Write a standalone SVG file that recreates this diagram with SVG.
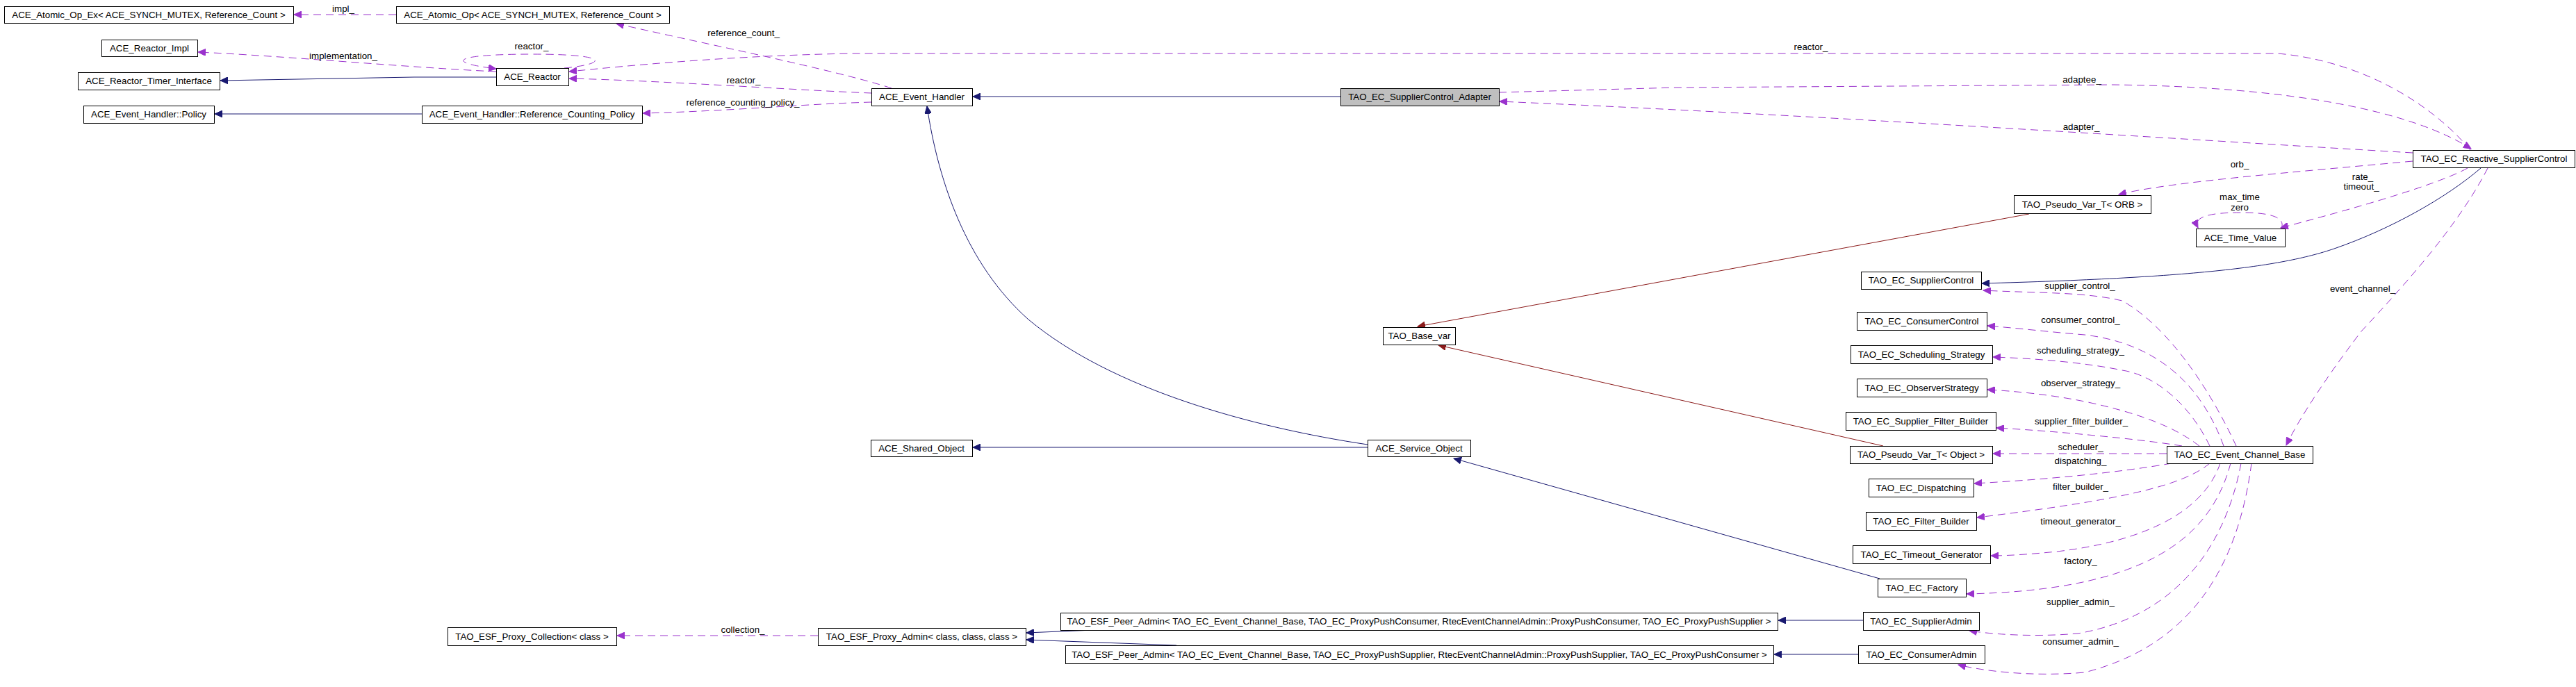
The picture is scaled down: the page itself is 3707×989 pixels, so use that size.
<svg xmlns="http://www.w3.org/2000/svg" width="3707" height="989" viewBox="0 0 3707 989">
<style>
rect.b{fill:#ffffff;stroke:#000000;stroke-width:1}
rect.m{fill:#bfbfbf;stroke:#000000;stroke-width:1}
text{font-family:"Liberation Sans",Arial,sans-serif;font-size:13.33px;fill:#000000}
.nt{text-anchor:middle}
.lb{text-anchor:middle}
.e{fill:none;stroke-width:1}
.inh{stroke:#191970;marker-end:url(#aN)}
.use{stroke:#9a32cd;stroke-dasharray:11,7;marker-end:url(#aP)}
.tpl{stroke:#8b1a1a;marker-end:url(#aR)}
</style>
<defs>
<marker id="aN" markerWidth="12" markerHeight="10" refX="11" refY="5" orient="auto" markerUnits="userSpaceOnUse"><path d="M0,0 L11,5 L0,10 z" fill="#191970" stroke="#191970" stroke-dasharray="none"/></marker>
<marker id="aP" markerWidth="12" markerHeight="10" refX="11" refY="5" orient="auto" markerUnits="userSpaceOnUse"><path d="M0,0 L11,5 L0,10 z" fill="#9a32cd" stroke="#9a32cd" stroke-dasharray="none"/></marker>
<marker id="aR" markerWidth="12" markerHeight="10" refX="11" refY="5" orient="auto" markerUnits="userSpaceOnUse"><path d="M0,0 L11,5 L0,10 z" fill="#8b1a1a" stroke="#8b1a1a" stroke-dasharray="none"/></marker>
</defs>
<rect x="0" y="0" width="3707" height="989" fill="#ffffff"/>
<g id="connectors">
<path class="e use" d="M570,21 L423,21"/>
<path class="e use" d="M714,103 C600,98 400,80 285,75"/>
<path class="e inh" d="M714,111 L596,111 L317,116"/>
<path class="e inh" d="M607,164 L309,164"/>
<path class="e use" d="M812,98 C875,92 880,78 766,78 C650,78 640,90 714,99"/>
<path class="e use" d="M1283,127 C1200,100 1000,60 887,34"/>
<path class="e use" d="M1254,134 C1150,130 950,116 819,113"/>
<path class="e use" d="M1254,147 C1150,150 1050,160 925,163"/>
<path class="e use" d="M3555,216 C3500,150 3400,88 3278,77 L1227,77 C1050,80 900,95 819,103"/>
<path class="e use" d="M2157,133 L2413,126 L3040,122 C3300,125 3470,160 3556,214"/>
<path class="e use" d="M3472,220 C3100,198 2600,165 2158,146"/>
<path class="e use" d="M3472,232 C3300,248 3120,262 3049,280"/>
<path class="e use" d="M3551,242 C3500,270 3350,310 3282,328"/>
<path class="e use" d="M3283,329 C3290,312 3265,306 3225,306 C3180,306 3155,312 3163,328"/>
<path class="e use" d="M3580,242 C3540,320 3470,400 3398,477 C3350,540 3310,600 3290,641"/>
<path class="e inh" d="M3570,242 C3520,285 3440,330 3359,358 C3280,385 3150,400 2852,408"/>
<path class="e use" d="M3218,642 C3180,560 3120,470 3054,433 C3000,420 2930,422 2854,418"/>
<path class="e use" d="M3200,642 C3170,560 3110,495 3000,482 C2950,478 2900,472 2860,469"/>
<path class="e use" d="M3180,642 C3150,580 3100,540 3054,533 C3000,522 2930,516 2868,514"/>
<path class="e use" d="M3165,642 C3130,615 3080,595 3000,578 C2950,568 2900,563 2860,561"/>
<path class="e use" d="M3140,642 C3080,632 2950,620 2873,616"/>
<path class="e use" d="M3118,653 L2868,653"/>
<path class="e use" d="M3125,667 C3050,680 2950,690 2841,696"/>
<path class="e use" d="M3180,667 C3140,700 3050,720 2845,745"/>
<path class="e use" d="M3195,667 C3170,740 3080,780 2960,794 C2920,798 2890,800 2865,800"/>
<path class="e use" d="M3210,667 C3180,780 3080,850 2830,855"/>
<path class="e use" d="M3225,667 C3200,800 3120,890 2990,912 C2920,918 2860,912 2834,908"/>
<path class="e use" d="M3240,667 C3220,820 3150,930 3000,968 C2920,975 2850,965 2818,957"/>
<path class="e inh" d="M2705,833 L2092,660"/>
<path class="e inh" d="M1968,640 C1800,615 1600,560 1480,460 C1390,380 1350,260 1334,153"/>
<path class="e inh" d="M1968,644 L1400,644"/>
<path class="e inh" d="M1929,139 L1400,139"/>
<path class="e inh" d="M2681,893 L2559,893"/>
<path class="e inh" d="M2674,942 L2553,942"/>
<path class="e inh" d="M1573,907 L1477,911"/>
<path class="e inh" d="M1693,929 L1477,921"/>
<path class="e use" d="M1177,915 L888,915"/>
<path class="e tpl" d="M2920,308 L2040,470"/>
<path class="e tpl" d="M2710,642 L2070,497"/>
<text class="lb" x="494" y="17">impl_</text>
<text class="lb" x="494" y="85">implementation_</text>
<text class="lb" x="765" y="71">reactor_</text>
<text class="lb" x="1070" y="52">reference_count_</text>
<text class="lb" x="1070" y="120">reactor_</text>
<text class="lb" x="1069" y="152">reference_counting_policy_</text>
<text class="lb" x="2606" y="72">reactor_</text>
<text class="lb" x="2996" y="119">adaptee_</text>
<text class="lb" x="2995" y="187">adapter_</text>
<text class="lb" x="3223" y="241">orb_</text>
<text class="lb" x="3400" y="259">rate_</text>
<text class="lb" x="3398" y="273">timeout_</text>
<text class="lb" x="3223" y="288">max_time</text>
<text class="lb" x="3223" y="303">zero</text>
<text class="lb" x="3400" y="420">event_channel_</text>
<text class="lb" x="2993" y="416">supplier_control_</text>
<text class="lb" x="2994" y="465">consumer_control_</text>
<text class="lb" x="2994" y="509">scheduling_strategy_</text>
<text class="lb" x="2994" y="556">observer_strategy_</text>
<text class="lb" x="2995" y="611">supplier_filter_builder_</text>
<text class="lb" x="2994" y="648">scheduler_</text>
<text class="lb" x="2994" y="668">dispatching_</text>
<text class="lb" x="2994" y="705">filter_builder_</text>
<text class="lb" x="2994" y="755">timeout_generator_</text>
<text class="lb" x="2994" y="812">factory_</text>
<text class="lb" x="2994" y="871">supplier_admin_</text>
<text class="lb" x="2994" y="928">consumer_admin_</text>
<text class="lb" x="1069" y="911">collection_</text>
</g>
<g id="n1"><rect class="b" x="6.5" y="9.5" width="416" height="24"/><text class="nt" x="214" y="26">ACE_Atomic_Op_Ex&lt; ACE_SYNCH_MUTEX, Reference_Count &gt;</text></g>
<g id="n2"><rect class="b" x="146.5" y="57.5" width="138" height="24"/><text class="nt" x="215" y="74">ACE_Reactor_Impl</text></g>
<g id="n3"><rect class="b" x="112.5" y="104.5" width="204" height="25"/><text class="nt" x="214" y="121">ACE_Reactor_Timer_Interface</text></g>
<g id="n4"><rect class="b" x="120.5" y="152.5" width="188" height="25"/><text class="nt" x="214" y="169">ACE_Event_Handler::Policy</text></g>
<g id="n5"><rect class="b" x="570.5" y="9.5" width="393" height="24"/><text class="nt" x="766.5" y="26">ACE_Atomic_Op&lt; ACE_SYNCH_MUTEX, Reference_Count &gt;</text></g>
<g id="n6"><rect class="b" x="714.5" y="98.5" width="104" height="25"/><text class="nt" x="766" y="115">ACE_Reactor</text></g>
<g id="n7"><rect class="b" x="607.5" y="152.5" width="317" height="25"/><text class="nt" x="765.5" y="169">ACE_Event_Handler::Reference_Counting_Policy</text></g>
<g id="n8"><rect class="b" x="1254.5" y="127.5" width="145" height="25"/><text class="nt" x="1326.5" y="144">ACE_Event_Handler</text></g>
<g id="n9"><rect class="m" x="1929.5" y="127.5" width="228" height="25"/><text class="nt" x="2043" y="144">TAO_EC_SupplierControl_Adapter</text></g>
<g id="n10"><rect class="b" x="3472.5" y="216.5" width="233" height="25"/><text class="nt" x="3589" y="233">TAO_EC_Reactive_SupplierControl</text></g>
<g id="n11"><rect class="b" x="3160.5" y="329.5" width="128" height="26"/><text class="nt" x="3224" y="347">ACE_Time_Value</text></g>
<g id="n12"><rect class="b" x="2898.5" y="281.5" width="197" height="26"/><text class="nt" x="2996.5" y="299">TAO_Pseudo_Var_T&lt; ORB &gt;</text></g>
<g id="n13"><rect class="b" x="1990.5" y="471.5" width="104" height="25"/><text class="nt" x="2042.5" y="488">TAO_Base_var</text></g>
<g id="n14"><rect class="b" x="2678.5" y="391.5" width="173" height="25"/><text class="nt" x="2764.5" y="408">TAO_EC_SupplierControl</text></g>
<g id="n15"><rect class="b" x="2672.5" y="449.5" width="187" height="26"/><text class="nt" x="2765.5" y="467">TAO_EC_ConsumerControl</text></g>
<g id="n16"><rect class="b" x="2663.5" y="497.5" width="204" height="26"/><text class="nt" x="2765" y="515">TAO_EC_Scheduling_Strategy</text></g>
<g id="n17"><rect class="b" x="2672.5" y="545.5" width="187" height="26"/><text class="nt" x="2765.5" y="563">TAO_EC_ObserverStrategy</text></g>
<g id="n18"><rect class="b" x="2656.5" y="593.5" width="216" height="26"/><text class="nt" x="2764" y="611">TAO_EC_Supplier_Filter_Builder</text></g>
<g id="n19"><rect class="b" x="2662.5" y="642.5" width="205" height="25"/><text class="nt" x="2764.5" y="659">TAO_Pseudo_Var_T&lt; Object &gt;</text></g>
<g id="n20"><rect class="b" x="2689.5" y="689.5" width="151" height="26"/><text class="nt" x="2764.5" y="707">TAO_EC_Dispatching</text></g>
<g id="n21"><rect class="b" x="2685.5" y="737.5" width="159" height="26"/><text class="nt" x="2764.5" y="755">TAO_EC_Filter_Builder</text></g>
<g id="n22"><rect class="b" x="2666.5" y="785.5" width="198" height="26"/><text class="nt" x="2765" y="803">TAO_EC_Timeout_Generator</text></g>
<g id="n23"><rect class="b" x="2702.5" y="833.5" width="127" height="26"/><text class="nt" x="2765.5" y="851">TAO_EC_Factory</text></g>
<g id="n24"><rect class="b" x="2681.5" y="881.5" width="167" height="26"/><text class="nt" x="2764.5" y="899">TAO_EC_SupplierAdmin</text></g>
<g id="n25"><rect class="b" x="2674.5" y="929.5" width="182" height="26"/><text class="nt" x="2765" y="947">TAO_EC_ConsumerAdmin</text></g>
<g id="n26"><rect class="b" x="3118.5" y="642.5" width="210" height="25"/><text class="nt" x="3223" y="659">TAO_EC_Event_Channel_Base</text></g>
<g id="n27"><rect class="b" x="1253.5" y="633.5" width="146" height="24"/><text class="nt" x="1326" y="650">ACE_Shared_Object</text></g>
<g id="n28"><rect class="b" x="1968.5" y="633.5" width="148" height="24"/><text class="nt" x="2042" y="650">ACE_Service_Object</text></g>
<g id="n29"><rect class="b" x="1526.5" y="882.5" width="1032" height="25"/><text class="nt" x="2042" y="899">TAO_ESF_Peer_Admin&lt; TAO_EC_Event_Channel_Base, TAO_EC_ProxyPushConsumer, RtecEventChannelAdmin::ProxyPushConsumer, TAO_EC_ProxyPushSupplier &gt;</text></g>
<g id="n30"><rect class="b" x="1533.5" y="929.5" width="1019" height="26"/><text class="nt" x="2042.5" y="947">TAO_ESF_Peer_Admin&lt; TAO_EC_Event_Channel_Base, TAO_EC_ProxyPushSupplier, RtecEventChannelAdmin::ProxyPushSupplier, TAO_EC_ProxyPushConsumer &gt;</text></g>
<g id="n31"><rect class="b" x="1177.5" y="904.5" width="299" height="25"/><text class="nt" x="1326.5" y="921">TAO_ESF_Proxy_Admin&lt; class, class, class &gt;</text></g>
<g id="n32"><rect class="b" x="644.5" y="903.5" width="243" height="26"/><text class="nt" x="765.5" y="921">TAO_ESF_Proxy_Collection&lt; class &gt;</text></g>
</svg>
